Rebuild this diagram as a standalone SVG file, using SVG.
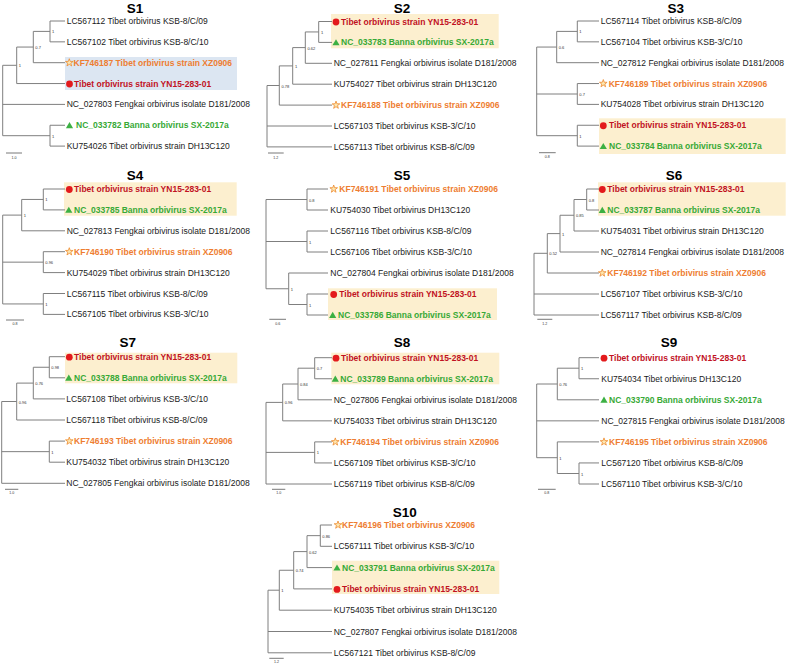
<svg xmlns="http://www.w3.org/2000/svg" width="787" height="664" viewBox="0 0 787 664">
<style>
text{font-family:"Liberation Sans",Arial,sans-serif}
.h{font-size:13.5px;font-weight:bold;fill:#000;text-anchor:middle}
.t{font-size:8.5px;fill:#1a1a1a}
.o{font-size:8.5px;font-weight:bold;fill:#ee7d31}
.r{font-size:8.5px;font-weight:bold;fill:#c1121f}
.g{font-size:8.5px;font-weight:bold;fill:#37a936}
.s{font-size:4px;fill:#333}
.sb{font-size:3.6px;fill:#333;text-anchor:middle}
.tree{fill:none;stroke:#7f7f7f;stroke-width:1}
.bar{stroke:#555;stroke-width:0.8}
.hy{fill:#fcefcf}
.hb{fill:#dce6f2}
</style>
<defs>
<polygon id="star" points="0,-4 0.94,-1.29 3.8,-1.24 1.52,0.49 2.35,3.24 0,1.6 -2.35,3.24 -1.52,0.49 -3.8,-1.24 -0.94,-1.29" fill="#fde7b0" stroke="#ee8a2e" stroke-width="0.8"/>
<polygon id="tri" points="0,-3.4 3.6,2.7 -3.6,2.7" fill="#3cb043"/>
<circle id="dot" r="3.4" fill="#e31a1c"/>
</defs>

<!-- highlight boxes -->
<rect class="hb" x="65" y="57" width="172" height="33"/>
<rect class="hy" x="331" y="14" width="167.7" height="34.3"/>
<rect class="hy" x="599" y="118.3" width="186.7" height="35.7"/>
<rect class="hy" x="64" y="182.3" width="172.7" height="33.4"/>
<rect class="hy" x="328" y="288.3" width="169" height="31.7"/>
<rect class="hy" x="598" y="182.3" width="187.7" height="33.4"/>
<rect class="hy" x="65" y="352.7" width="172.3" height="30.6"/>
<rect class="hy" x="331.3" y="352.7" width="168" height="31.6"/>
<rect class="hy" x="332" y="560.7" width="167.3" height="33.3"/>

<g id="connectors">
<path class="tree" d="M2.7,65.3V135.7M2.7,65.3H16.7M16.7,47.05V83.55M16.7,83.55H65M16.7,47.05H33.3M33.3,31.4V62.7M33.3,62.7H65M33.3,31.4H50M50,21V41.85M50,21H65M50,41.85H65M2.7,104.4H65M2.7,135.7H50M50,125.25V146.1M50,125.25H65M50,146.1H65"/>
<path class="tree" d="M267,85.5V146.9M267,85.5H279.3M279.3,65.9V105.1M279.3,105.1H332M279.3,65.9H292.7M292.7,47.6V84.2M292.7,84.2H332M292.7,47.6H305.3M305.3,31.95V63.3M305.3,63.3H332M305.3,31.95H318.7M318.7,21.5V42.4M318.7,21.5H332M318.7,42.4H332M267,126H332M267,146.9H332"/>
<path class="tree" d="M536.7,47.05V135.7M536.7,47.05H556.7M556.7,31.4V62.7M556.7,62.7H599M556.7,31.4H577.3M577.3,21V41.85M577.3,21H599M577.3,41.85H599M536.7,94H577.3M577.3,83.55V104.4M577.3,83.55H599M577.3,104.4H599M536.7,135.7H577.3M577.3,125.25V146.1M577.3,125.25H599M577.3,146.1H599"/>
<path class="tree" d="M2.7,215.1V303.95M2.7,215.1H21.7M21.7,199.45V230.8M21.7,230.8H65M21.7,199.45H43.3M43.3,189V209.9M43.3,189H65M43.3,209.9H65M2.7,262.15H43.3M43.3,251.7V272.6M43.3,251.7H65M43.3,272.6H65M2.7,303.95H43.3M43.3,293.5V314.4M43.3,293.5H65M43.3,314.4H65"/>
<path class="tree" d="M266,199.5V288.75M266,199.5H307M307,189V210M307,189H328M307,210H328M266,241.5H307M307,231V252M307,231H328M307,252H328M266,288.75H288.7M288.7,273V304.5M288.7,273H328M288.7,304.5H307M307,294V315M307,294H328M307,315H328"/>
<path class="tree" d="M534,253.3V315M534,253.3H547.3M547.3,233.6V273M547.3,273H599M547.3,233.6H560M560,215.25V252M560,252H599M560,215.25H574M574,199.5V231M574,231H599M574,199.5H586.7M586.7,189V210M586.7,189H599M586.7,210H599M534,294H599M534,315H599"/>
<path class="tree" d="M1.7,401.5V483.3M1.7,401.5H16.7M16.7,383.1V420M16.7,420H65M16.7,383.1H33.3M33.3,367.25V398.9M33.3,398.9H65M33.3,367.25H49.3M49.3,356.7V377.8M49.3,356.7H65M49.3,377.8H65M1.7,451.65H49.3M49.3,441.1V462.2M49.3,441.1H65M49.3,462.2H65M1.7,483.3H65"/>
<path class="tree" d="M266,402.4V484M266,402.4H282.7M282.7,384V420.85M282.7,420.85H332M282.7,384H298M298,368.2V399.8M298,399.8H332M298,368.2H314.7M314.7,357.7V378.75M314.7,357.7H332M314.7,378.75H332M266,452.4H314.7M314.7,441.9V462.95M314.7,441.9H332M314.7,462.95H332M266,484H332"/>
<path class="tree" d="M536.7,384V457.7M536.7,384H557.3M557.3,368.2V399.8M557.3,399.8H599M557.3,368.2H579M579,357.7V378.75M579,357.7H599M579,378.75H599M536.7,420.85H599M536.7,457.7H557.3M557.3,441.9V473.5M557.3,441.9H599M557.3,473.5H579M579,462.95V484M579,462.95H599M579,484H599"/>
<path class="tree" d="M268,590.2V652.8M268,590.2H279.3M279.3,570.25V610.2M279.3,610.2H332M279.3,570.25H293.7M293.7,551.6V588.9M293.7,588.9H332M293.7,551.6H307M307,535.65V567.6M307,567.6H332M307,535.65H320.3M320.3,525V546.3M320.3,525H332M320.3,546.3H332M268,631.5H332M268,652.8H332"/>
</g>

<g id="S1">
<text class="h" x="135" y="12.5">S1</text>
<g id="S1-n1"><text class="t" x="66.7" y="24">LC567112 Tibet orbivirus KSB-8/C/09</text></g>
<g id="S1-n2"><text class="t" x="66.7" y="44.85">LC567102 Tibet orbivirus KSB-8/C/10</text></g>
<g id="S1-n3"><use href="#star" x="69.3" y="62.7"/><text class="o" x="73.5" y="65.7">KF746187 Tibet orbivirus strain XZ0906</text></g>
<g id="S1-n4"><use href="#dot" x="69.5" y="84"/><text class="r" x="74" y="86.55">Tibet orbivirus strain YN15-283-01</text></g>
<g id="S1-n5"><text class="t" x="66.7" y="107.4">NC_027803 Fengkai orbivirus isolate D181/2008</text></g>
<g id="S1-n6"><use href="#tri" x="69.5" y="125.5"/><text class="g" x="76" y="128.25">NC_033782 Banna orbivirus SX-2017a</text></g>
<g id="S1-n7"><text class="t" x="66.7" y="149.1">KU754026 Tibet orbivirus strain DH13C120</text></g>
<text class="s" x="52" y="33.4">1</text><text class="s" x="35.3" y="49">0.7</text><text class="s" x="18.7" y="67.3">1</text><text class="s" x="52" y="137.7">1</text>
<line class="bar" x1="6" y1="153" x2="22" y2="153"/><text class="sb" x="14" y="158.5">1.0</text>
</g>

<g id="S2">
<text class="h" x="402" y="12.5">S2</text>
<g id="S2-n1"><use href="#dot" x="336" y="22"/><text class="r" x="341" y="24.5">Tibet orbivirus strain YN15-283-01</text></g>
<g id="S2-n2"><use href="#tri" x="336" y="42.6"/><text class="g" x="341" y="45.4">NC_033783 Banna orbivirus SX-2017a</text></g>
<g id="S2-n3"><text class="t" x="333.7" y="66.3">NC_027811 Fengkai orbivirus isolate D181/2008</text></g>
<g id="S2-n4"><text class="t" x="333.7" y="87.2">KU754027 Tibet orbivirus strain DH13C120</text></g>
<g id="S2-n5"><use href="#star" x="336" y="105.1"/><text class="o" x="341" y="108.1">KF746188 Tibet orbivirus strain XZ0906</text></g>
<g id="S2-n6"><text class="t" x="333.7" y="129">LC567103 Tibet orbivirus KSB-3/C/10</text></g>
<g id="S2-n7"><text class="t" x="333.7" y="149.9">LC567113 Tibet orbivirus KSB-8/C/09</text></g>
<text class="s" x="321" y="33.9">1</text><text class="s" x="307.5" y="49.6">0.62</text><text class="s" x="295" y="67.9">1</text><text class="s" x="281.5" y="87.5">0.78</text>
<line class="bar" x1="268" y1="153" x2="283.7" y2="153"/><text class="sb" x="275.8" y="158.5">1.2</text>
</g>

<g id="S3">
<text class="h" x="675.7" y="12.5">S3</text>
<g id="S3-n1"><text class="t" x="600.7" y="24">LC567114 Tibet orbivirus KSB-8/C/09</text></g>
<g id="S3-n2"><text class="t" x="600.7" y="44.85">LC567104 Tibet orbivirus KSB-3/C/10</text></g>
<g id="S3-n3"><text class="t" x="600.7" y="65.7">NC_027812 Fengkai orbivirus isolate D181/2008</text></g>
<g id="S3-n4"><use href="#star" x="603.3" y="83.55"/><text class="o" x="608.7" y="86.55">KF746189 Tibet orbivirus strain XZ0906</text></g>
<g id="S3-n5"><text class="t" x="600.7" y="107.4">KU754028 Tibet orbivirus strain DH13C120</text></g>
<g id="S3-n6"><use href="#dot" x="603.3" y="125.75"/><text class="r" x="609" y="128.25">Tibet orbivirus strain YN15-283-01</text></g>
<g id="S3-n7"><use href="#tri" x="603.3" y="146.3"/><text class="g" x="609" y="149.1">NC_033784 Banna orbivirus SX-2017a</text></g>
<text class="s" x="579.3" y="33.4">1</text><text class="s" x="558.7" y="49">0.6</text><text class="s" x="579.3" y="96">0.7</text><text class="s" x="579.3" y="137.7">1</text>
<line class="bar" x1="539" y1="152.7" x2="555.7" y2="152.7"/><text class="sb" x="547.3" y="158.2">0.8</text>
</g>

<g id="S4">
<text class="h" x="135" y="180">S4</text>
<g id="S4-n1"><use href="#dot" x="69.3" y="189.5"/><text class="r" x="74" y="192">Tibet orbivirus strain YN15-283-01</text></g>
<g id="S4-n2"><use href="#tri" x="68.8" y="210.1"/><text class="g" x="74" y="212.9">NC_033785 Banna orbivirus SX-2017a</text></g>
<g id="S4-n3"><text class="t" x="66.7" y="233.8">NC_027813 Fengkai orbivirus isolate D181/2008</text></g>
<g id="S4-n4"><use href="#star" x="69.3" y="251.7"/><text class="o" x="74" y="254.7">KF746190 Tibet orbivirus strain XZ0906</text></g>
<g id="S4-n5"><text class="t" x="66.7" y="275.6">KU754029 Tibet orbivirus strain DH13C120</text></g>
<g id="S4-n6"><text class="t" x="66.7" y="296.5">LC567115 Tibet orbivirus KSB-8/C/09</text></g>
<g id="S4-n7"><text class="t" x="66.7" y="317.4">LC567105 Tibet orbivirus KSB-3/C/10</text></g>
<text class="s" x="45.3" y="201.4">1</text><text class="s" x="23.7" y="217.1">1</text><text class="s" x="45.3" y="264.1">0.96</text><text class="s" x="45.3" y="306">1</text>
<line class="bar" x1="6" y1="320" x2="24" y2="320"/><text class="sb" x="15" y="325">0.8</text>
</g>

<g id="S5">
<text class="h" x="402" y="180">S5</text>
<g id="S5-n1"><use href="#star" x="333.7" y="189"/><text class="o" x="339.3" y="192">KF746191 Tibet orbivirus strain XZ0906</text></g>
<g id="S5-n2"><text class="t" x="330.3" y="213">KU754030 Tibet orbivirus DH13C120</text></g>
<g id="S5-n3"><text class="t" x="330.3" y="234">LC567116 Tibet orbivirus KSB-8/C/09</text></g>
<g id="S5-n4"><text class="t" x="330.3" y="255">LC567106 Tibet orbivirus KSB-3/C/10</text></g>
<g id="S5-n5"><text class="t" x="330.3" y="276">NC_027804 Fengkai orbivirus isolate D181/2008</text></g>
<g id="S5-n6"><use href="#dot" x="333.7" y="294.5"/><text class="r" x="339.3" y="297">Tibet orbivirus strain YN15-283-01</text></g>
<g id="S5-n7"><use href="#tri" x="332.7" y="315.2"/><text class="g" x="338" y="318">NC_033786 Banna orbivirus SX-2017a</text></g>
<text class="s" x="309" y="201.5">0.8</text><text class="s" x="309" y="243.5">1</text><text class="s" x="290.7" y="290.8">1</text><text class="s" x="309" y="306.5">1</text>
<line class="bar" x1="269.3" y1="319.3" x2="286" y2="319.3"/><text class="sb" x="277.7" y="324.5">0.6</text>
</g>

<g id="S6">
<text class="h" x="674" y="180">S6</text>
<g id="S6-n1"><use href="#dot" x="602.3" y="189.5"/><text class="r" x="607.3" y="192">Tibet orbivirus strain YN15-283-01</text></g>
<g id="S6-n2"><use href="#tri" x="602.3" y="210.2"/><text class="g" x="607.3" y="213">NC_033787 Banna orbivirus SX-2017a</text></g>
<g id="S6-n3"><text class="t" x="600.7" y="234">KU754031 Tibet orbivirus strain DH13C120</text></g>
<g id="S6-n4"><text class="t" x="600.7" y="255">NC_027814 Fengkai orbivirus isolate D181/2008</text></g>
<g id="S6-n5"><use href="#star" x="602.3" y="273"/><text class="o" x="607.3" y="276">KF746192 Tibet orbivirus strain XZ0906</text></g>
<g id="S6-n6"><text class="t" x="600.7" y="297">LC567107 Tibet orbivirus KSB-3/C/10</text></g>
<g id="S6-n7"><text class="t" x="600.7" y="318">LC567117 Tibet orbivirus KSB-8/C/09</text></g>
<text class="s" x="588.7" y="201.5">0.8</text><text class="s" x="576" y="217.3">0.85</text><text class="s" x="562" y="235.6">1</text><text class="s" x="549.3" y="255.3">0.52</text>
<line class="bar" x1="537.3" y1="319.3" x2="552.3" y2="319.3"/><text class="sb" x="544.8" y="324.5">1.2</text>
</g>

<g id="S7">
<text class="h" x="127.7" y="347">S7</text>
<g id="S7-n1"><use href="#dot" x="69.3" y="357.2"/><text class="r" x="74" y="359.7">Tibet orbivirus strain YN15-283-01</text></g>
<g id="S7-n2"><use href="#tri" x="68.8" y="378"/><text class="g" x="74" y="380.8">NC_033788 Banna orbivirus SX-2017a</text></g>
<g id="S7-n3"><text class="t" x="66.3" y="401.9">LC567108 Tibet orbivirus KSB-3/C/10</text></g>
<g id="S7-n4"><text class="t" x="66.3" y="423">LC567118 Tibet orbivirus KSB-8/C/09</text></g>
<g id="S7-n5"><use href="#star" x="69.3" y="441.1"/><text class="o" x="74" y="444.1">KF746193 Tibet orbivirus strain XZ0906</text></g>
<g id="S7-n6"><text class="t" x="66.3" y="465.2">KU754032 Tibet orbivirus strain DH13C120</text></g>
<g id="S7-n7"><text class="t" x="66.3" y="486.3">NC_027805 Fengkai orbivirus isolate D181/2008</text></g>
<text class="s" x="51.3" y="369.2">0.98</text><text class="s" x="35.3" y="385.1">0.76</text><text class="s" x="18.7" y="403.5">0.96</text><text class="s" x="51.3" y="453.7">1</text>
<line class="bar" x1="5" y1="489.3" x2="18.3" y2="489.3"/><text class="sb" x="11.7" y="494">1.0</text>
</g>

<g id="S8">
<text class="h" x="402" y="347">S8</text>
<g id="S8-n1"><use href="#dot" x="336" y="358.2"/><text class="r" x="341" y="360.7">Tibet orbivirus strain YN15-283-01</text></g>
<g id="S8-n2"><use href="#tri" x="335.3" y="378.95"/><text class="g" x="340.3" y="381.75">NC_033789 Banna orbivirus SX-2017a</text></g>
<g id="S8-n3"><text class="t" x="333.7" y="402.8">NC_027806 Fengkai orbivirus isolate D181/2008</text></g>
<g id="S8-n4"><text class="t" x="333.7" y="423.85">KU754033 Tibet orbivirus strain DH13C120</text></g>
<g id="S8-n5"><use href="#star" x="335.3" y="441.9"/><text class="o" x="340.3" y="444.9">KF746194 Tibet orbivirus strain XZ0906</text></g>
<g id="S8-n6"><text class="t" x="333.7" y="465.95">LC567109 Tibet orbivirus KSB-3/C/10</text></g>
<g id="S8-n7"><text class="t" x="333.7" y="487">LC567119 Tibet orbivirus KSB-8/C/09</text></g>
<text class="s" x="316.7" y="370.2">0.7</text><text class="s" x="300" y="386">0.84</text><text class="s" x="284.7" y="404.4">0.96</text><text class="s" x="316.7" y="454.4">1</text>
<line class="bar" x1="272" y1="489.3" x2="285.3" y2="489.3"/><text class="sb" x="278.7" y="494">1.0</text>
</g>

<g id="S9">
<text class="h" x="669" y="347">S9</text>
<g id="S9-n1"><use href="#dot" x="604" y="358.2"/><text class="r" x="609" y="360.7">Tibet orbivirus strain YN15-283-01</text></g>
<g id="S9-n2"><text class="t" x="601.3" y="381.75">KU754034 Tibet orbivirus DH13C120</text></g>
<g id="S9-n3"><use href="#tri" x="604" y="400"/><text class="g" x="609" y="402.8">NC_033790 Banna orbivirus SX-2017a</text></g>
<g id="S9-n4"><text class="t" x="601.3" y="423.85">NC_027815 Fengkai orbivirus isolate D181/2008</text></g>
<g id="S9-n5"><use href="#star" x="604" y="441.9"/><text class="o" x="609" y="444.9">KF746195 Tibet orbivirus strain XZ0906</text></g>
<g id="S9-n6"><text class="t" x="601.3" y="465.95">LC567120 Tibet orbivirus KSB-8/C/09</text></g>
<g id="S9-n7"><text class="t" x="601.3" y="487">LC567110 Tibet orbivirus KSB-3/C/10</text></g>
<text class="s" x="581" y="370.2">1</text><text class="s" x="559.3" y="386">0.76</text><text class="s" x="559.3" y="459.7">1</text><text class="s" x="581" y="475.5">1</text>
<line class="bar" x1="538" y1="489.3" x2="555.7" y2="489.3"/><text class="sb" x="546.8" y="494">0.8</text>
</g>

<g id="S10">
<text class="h" x="404.7" y="517">S10</text>
<g id="S10-n1"><use href="#star" x="338" y="525"/><text class="o" x="342" y="528">KF746196 Tibet orbivirus XZ0906</text></g>
<g id="S10-n2"><text class="t" x="333.7" y="549.3">LC567111 Tibet orbivirus KSB-3/C/10</text></g>
<g id="S10-n3"><use href="#tri" x="337" y="567.8"/><text class="g" x="342" y="570.6">NC_033791 Banna orbivirus SX-2017a</text></g>
<g id="S10-n4"><use href="#dot" x="337" y="589.4"/><text class="r" x="342" y="591.9">Tibet orbivirus strain YN15-283-01</text></g>
<g id="S10-n5"><text class="t" x="333.7" y="613.2">KU754035 Tibet orbivirus strain DH13C120</text></g>
<g id="S10-n6"><text class="t" x="333.7" y="634.5">NC_027807 Fengkai orbivirus isolate D181/2008</text></g>
<g id="S10-n7"><text class="t" x="333.7" y="655.8">LC567121 Tibet orbivirus KSB-8/C/09</text></g>
<text class="s" x="322.3" y="537.6">0.86</text><text class="s" x="309" y="553.6">0.62</text><text class="s" x="295.7" y="572.2">0.74</text><text class="s" x="281.3" y="592.2">1</text>
<line class="bar" x1="269.3" y1="658.3" x2="283.7" y2="658.3"/><text class="sb" x="276.5" y="663">1.2</text>
</g>
</svg>
